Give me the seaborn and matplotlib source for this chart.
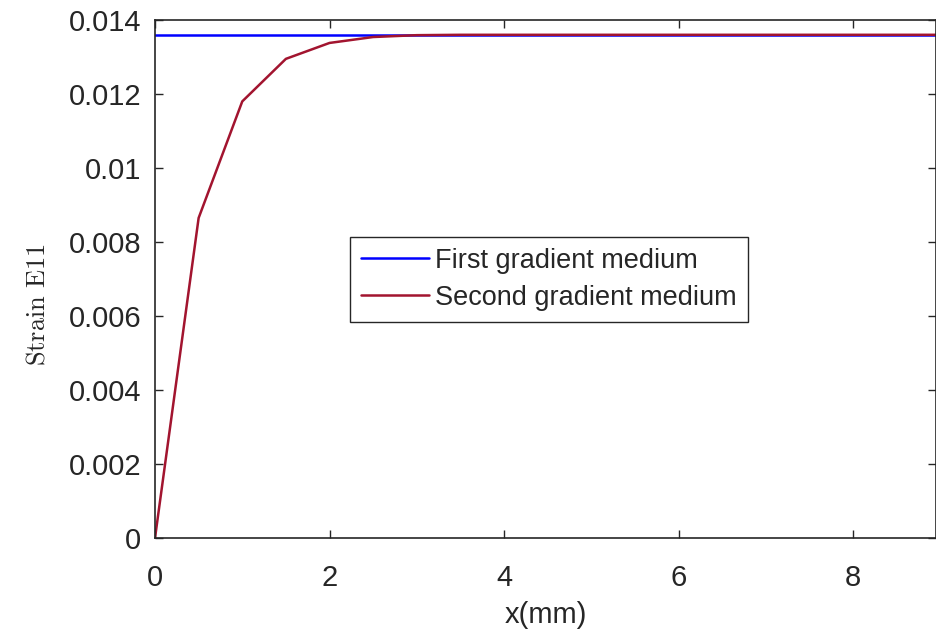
import numpy as np
import pandas as pd
import matplotlib.pyplot as plt
import seaborn as sns

# x positions (mm) and strain values
x_mm = [0, 0.5, 1.0, 1.5, 2.0, 2.5, 3.0, 3.5, 4.0, 5.0, 6.0, 7.0, 8.0, 9.0]
first_medium = [0.0136] * len(x_mm)
second_medium = [0.0, 0.00865, 0.01180, 0.01295, 0.01338, 0.01354, 0.01359,
                 0.0136, 0.0136, 0.0136, 0.0136, 0.0136, 0.0136, 0.0136]
labels = ["First gradient medium", "Second gradient medium"]
x_ticks = [0, 2, 4, 6, 8]
y_ticks = [0, 0.002, 0.004, 0.006, 0.008, 0.01, 0.012, 0.014]
y_tick_labels = ["0", "0.002", "0.004", "0.006", "0.008", "0.01", "0.012", "0.014"]

df = pd.DataFrame({
    "x": x_mm * 2,
    "strain": first_medium + second_medium,
    "medium": [labels[0]] * len(x_mm) + [labels[1]] * len(x_mm),
})

sns.set_theme(style="ticks")
plt.rcParams["font.family"] = ["Liberation Sans", "DejaVu Sans"]
plt.rcParams["mathtext.fontset"] = "cm"

fig = plt.figure(figsize=(9.37, 6.34), dpi=100)
ax = fig.add_axes([155 / 937, 96 / 634, 781 / 937, 518 / 634])

sns.lineplot(data=df, x="x", y="strain", hue="medium",
             palette={labels[0]: "#0000ff", labels[1]: "#a2142f"},
             linewidth=1.8, ax=ax, legend=True)

ax.set_xlim(0, 8.95)
ax.set_ylim(0, 0.014)
ax.set_xticks(x_ticks)
ax.set_yticks(y_ticks)
ax.set_yticklabels(y_tick_labels)
ax.tick_params(direction="in", length=6, width=1, colors="#262626",
               labelsize=21, top=True, right=True)
ax.tick_params(axis="x", pad=19)
ax.tick_params(axis="y", pad=10)
for s in ax.spines.values():
    s.set_color("#262626")
    s.set_linewidth(1.2)

ax.set_xlabel("x(mm)", fontsize=21, color="#262626", labelpad=6)
ax.set_ylabel(r"$\mathrm{Strain\ E11}$", fontsize=19, color="#262626")
ax.yaxis.set_label_coords(-0.135, 0.45)

leg = ax.legend(loc="upper left", bbox_to_anchor=(0.2497, 0.581), borderaxespad=0,
                fontsize=19.5, fancybox=False, edgecolor="#262626", framealpha=1,
                handlelength=2.5, handletextpad=0.25, borderpad=0.4, labelspacing=0.4)
leg.get_frame().set_linewidth(1.0)
for t in leg.get_texts():
    t.set_color("#262626")

fig.savefig("out.png", dpi=100)
